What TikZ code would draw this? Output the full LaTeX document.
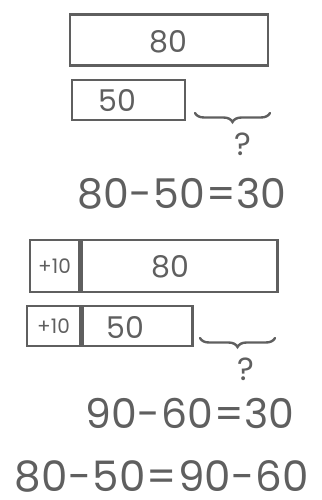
\documentclass[tikz,border=0pt]{standalone}
\usepackage{fontspec}
\setmainfont{Poppins}
\usetikzlibrary{decorations.pathreplacing}

\definecolor{pencil}{RGB}{95,95,95}

\tikzset{
  bar/.style={draw=pencil, line width=2.4pt, inner sep=0pt},
  num/.style={text=pencil, font=\fontsize{30}{30}\selectfont},
  small/.style={text=pencil, font=\fontsize{20}{20}\selectfont},
  ask/.style={text=pencil, font=\fontsize{32}{32}\selectfont},
  eqn/.style={text=pencil, inner sep=1pt, font=\fontsize{41}{41}\selectfont},
  gap/.style={draw=pencil, line width=2.4pt, line cap=round,
    decorate, decoration={brace, mirror, amplitude=9pt}},
}

\begin{document}
\begin{tikzpicture}[x=1pt,y=-1pt]
  \useasboundingbox (0,0) rectangle (321,500);

  % first drawing: 80 and 50
  \node[bar, minimum width=198pt, minimum height=51pt] (topA) at (169,40) {};
  \node[num] (topAtxt) at (168,42) {80};
  \node[bar, minimum width=113pt, minimum height=40pt] (topB) at (128.5,100) {};
  \node[num] (topBtxt) at (117,101) {50};
  \coordinate (topL) at (195,113);
  \coordinate (topR) at (270,113);
  \draw[gap] (topL) -- (topR);
  \node[ask] (topQ) at (243,144) {?};
  \node[eqn] (topEq) at (182,194) {80\kern1pt-\kern1pt50\kern1pt=\kern1pt30};

  % second drawing: add 10 to both
  \node[bar, minimum width=49pt, minimum height=52pt] (botAp) at (54.5,266) {};
  \node[bar, minimum width=196pt, minimum height=52pt, anchor=west] (botA) at (botAp.east) {};
  \node[small] (botAptxt) at (botAp) {+10};
  \node[num] (botAtxt) at (170,267) {80};
  \node[bar, minimum width=53pt, minimum height=40pt] (botBp) at (53.5,326) {};
  \node[bar, minimum width=110pt, minimum height=40pt, anchor=west] (botB) at (botBp.east) {};
  \node[small] (botBptxt) at (botBp) {+10};
  \node[num] (botBtxt) at (125,328) {50};
  \coordinate (botL) at (200,338);
  \coordinate (botR) at (275,338);
  \draw[gap] (botL) -- (botR);
  \node[ask] (botQ) at (246,369) {?};
  \node[eqn] (botEq) at (190,413) {90\kern1pt-\kern1pt60\kern1pt=\kern1pt30};

  % both differences agree
  \node[eqn, font=\fontsize{42}{42}\selectfont] (same) at (162,476) {80\kern1pt-\kern1pt50\kern1pt=\kern1pt90\kern1pt-\kern1pt60};
\end{tikzpicture}
\end{document}
